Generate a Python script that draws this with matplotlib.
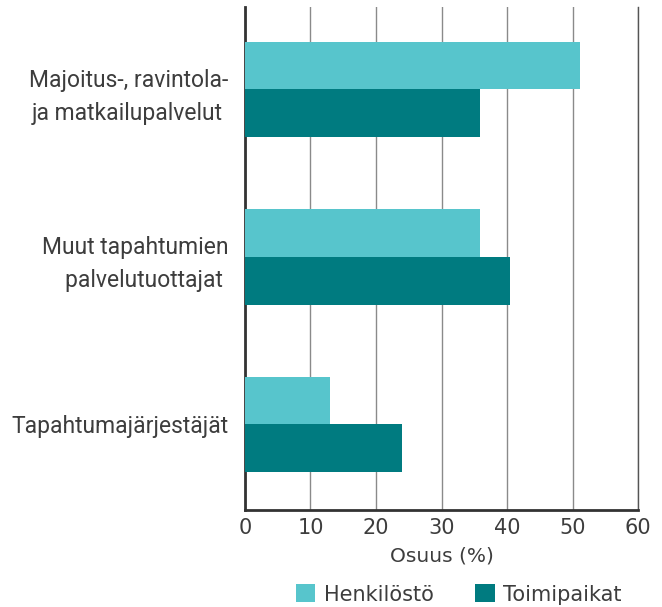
import matplotlib
matplotlib.use("Agg")
import matplotlib.pyplot as plt
import numpy as np
from matplotlib.patches import Patch

plt.rcParams['font.family'] = ['Roboto', 'DejaVu Sans']
wide = ['DejaVu Sans']

categories = ["Majoitus-, ravintola-\nja matkailupalvelut ",
              "Muut tapahtumien\npalvelutuottajat ",
              "Tapahtumajärjestäjät"]
henkilosto = [51.2, 35.8, 13.0]
toimipaikat = [35.8, 40.4, 24.0]
xticks = [0, 10, 20, 30, 40, 50, 60]

c_henk = "#57C5CC"
c_toim = "#007B80"
text_col = "#3d3d3d"

fig = plt.figure(figsize=(6.62, 6.07), dpi=100)
ax = fig.add_axes([0.370, 0.160, 0.594, 0.828])

y = np.arange(len(categories))
h = 0.285
ax.barh(y - h / 2, henkilosto, height=h, color=c_henk, zorder=3)
ax.barh(y + h / 2, toimipaikat, height=h, color=c_toim, zorder=3)

ax.set_ylim(2.51, -0.49)
ax.set_xlim(0, 60)
ax.set_xticks(xticks)
ax.set_xticklabels([str(t) for t in xticks], fontsize=15, color=text_col,
                   family=wide)
ax.set_yticks(y)
ax.set_yticklabels(categories, fontsize=16.5, color=text_col,
                   linespacing=1.55, multialignment='right')
ax.tick_params(axis='both', length=0)
ax.tick_params(axis='x', pad=6)
ax.tick_params(axis='y', pad=12)

ax.grid(axis='x', color="#8a8a8a", linewidth=1.0, zorder=0)
ax.set_axisbelow(True)
ax.spines['top'].set_visible(False)
ax.spines['right'].set_color("#555555")
ax.spines['right'].set_linewidth(1.0)
ax.spines['left'].set_color("#333333")
ax.spines['left'].set_linewidth(2.0)
ax.spines['bottom'].set_color("#333333")
ax.spines['bottom'].set_linewidth(2.0)

ax.set_xlabel("Osuus (%)", fontsize=14.5, color=text_col, labelpad=6,
              family=wide)

handles = [Patch(facecolor=c_henk, label="Henkilöstö"),
           Patch(facecolor=c_toim, label="Toimipaikat")]
fig.legend(handles=handles, loc='lower center', bbox_to_anchor=(0.693, -0.027),
           ncol=2, frameon=False, labelcolor=text_col,
           prop={'family': wide, 'size': 15},
           handlelength=0.95, handleheight=0.95, handletextpad=0.4,
           columnspacing=2.0)

fig.savefig("out.png", dpi=100)
